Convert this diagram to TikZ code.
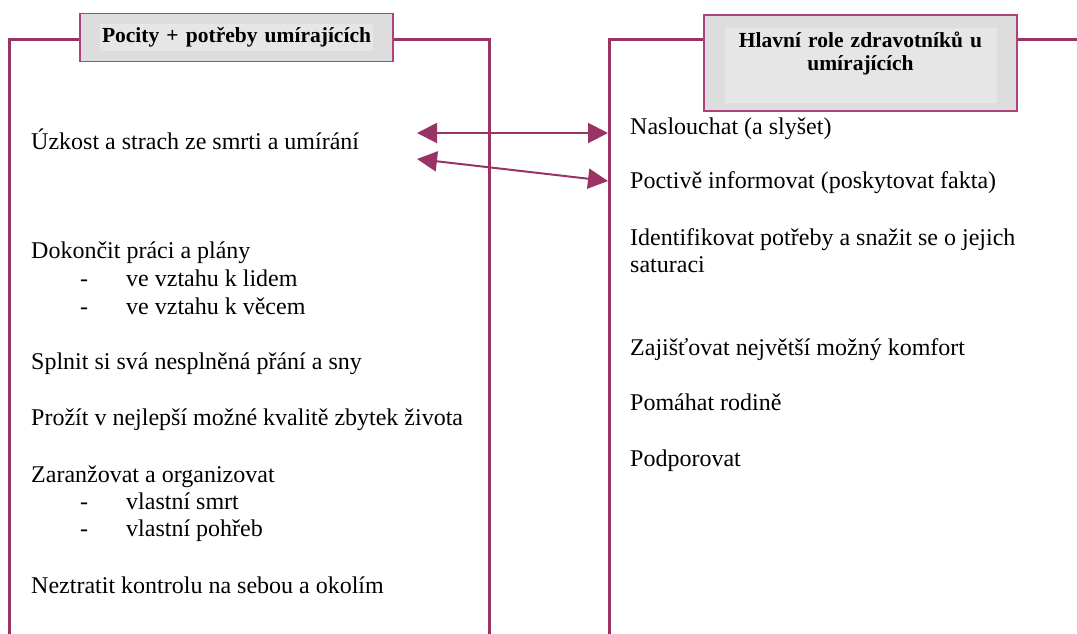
\documentclass[tikz,border=0pt]{standalone}
\usepackage{fontspec}
\setmainfont{Liberation Serif}
\usetikzlibrary{arrows.meta,positioning}
\definecolor{framec}{RGB}{153,51,102}
\definecolor{boxline}{RGB}{176,66,121}
\definecolor{boxfill}{RGB}{221,221,221}
\definecolor{boxinner}{RGB}{230,230,230}
\begin{document}
\begin{tikzpicture}[x=1pt, y=-1pt,
  frameline/.style={draw=framec, line width=3pt},
  headbox/.style={draw=boxline, line width=1.5pt, fill=boxfill, minimum width=313pt, inner sep=0pt},
  headtext/.style={fill=boxinner, font=\fontsize{21.5}{23}\selectfont\bfseries, align=center, text width=269pt, inner xsep=2pt, inner ysep=3.5pt},
  entry/.style={anchor=base west, inner sep=0pt, font=\fontsize{24}{28}\selectfont},
  link/.style={draw=framec, line width=2pt, {Triangle[length=20pt,width=20pt]}-{Triangle[length=20pt,width=20pt]}}]

  \useasboundingbox (0,0) rectangle (1077,633);

  %% arrow ends
  \coordinate (fearL) at (417,133);
  \coordinate (listenR) at (608,133);
  \coordinate (fearL2) at (417,159);
  \coordinate (informR) at (608,181);
  \draw[link] (fearL) -- (listenR);
  \draw[link] (fearL2) -- (informR);

  %% frames
  \draw[frameline] (9,640) -- (9,39) -- (489,39) -- (489,640);
  \draw[frameline] (609,640) -- (609,39) -- (1085,39);

  %% headers
  \node[headbox, minimum height=48pt] (needbox) at (236.5,37.5) {};
  \node[headtext] (needtitle) at (needbox.center) {Pocity + potřeby umírajících};
  \node[headbox, minimum height=96pt] (rolebox) at (860.5,63) {};
  \node[headtext, text width=268pt, below=14pt of rolebox.north] (roletitle) {Hlavní role zdravotníků u\\umírajících\\[6pt]~};

  %% left column
  \node[entry] (fear) at (31,149) {Úzkost a strach ze smrti a umírání};
  \node[entry] (finish) at (31,258) {Dokončit práci a plány};
  \node[entry] (d1) at (80,286) {-};
  \node[entry] (people) at (126,286) {ve vztahu k lidem};
  \node[entry] (d2) at (80,314) {-};
  \node[entry] (things) at (126,314) {ve vztahu k věcem};
  \node[entry] (wishes) at (31,369) {Splnit si svá nesplněná přání a sny};
  \node[entry] (quality) at (31,425) {Prožít v nejlepší možné kvalitě zbytek života};
  \node[entry] (arrange) at (31,482) {Zaranžovat a organizovat};
  \node[entry] (d3) at (80,509) {-};
  \node[entry] (death) at (126,509) {vlastní smrt};
  \node[entry] (d4) at (80,536) {-};
  \node[entry] (funeral) at (126,536) {vlastní pohřeb};
  \node[entry] (control) at (31,593) {Neztratit kontrolu na sebou a okolím};

  %% right column
  \node[entry] (listen) at (630,134) {Naslouchat (a slyšet)};
  \node[entry] (inform) at (630,188) {Poctivě informovat (poskytovat fakta)};
  \node[entry] (identify) at (630,245) {Identifikovat potřeby a snažit se o jejich};
  \node[entry] (saturate) at (630,272) {saturaci};
  \node[entry] (comfort) at (630,355) {Zajišťovat největší možný komfort};
  \node[entry] (family) at (630,410) {Pomáhat rodině};
  \node[entry] (support) at (630,466) {Podporovat};

\end{tikzpicture}
\end{document}
